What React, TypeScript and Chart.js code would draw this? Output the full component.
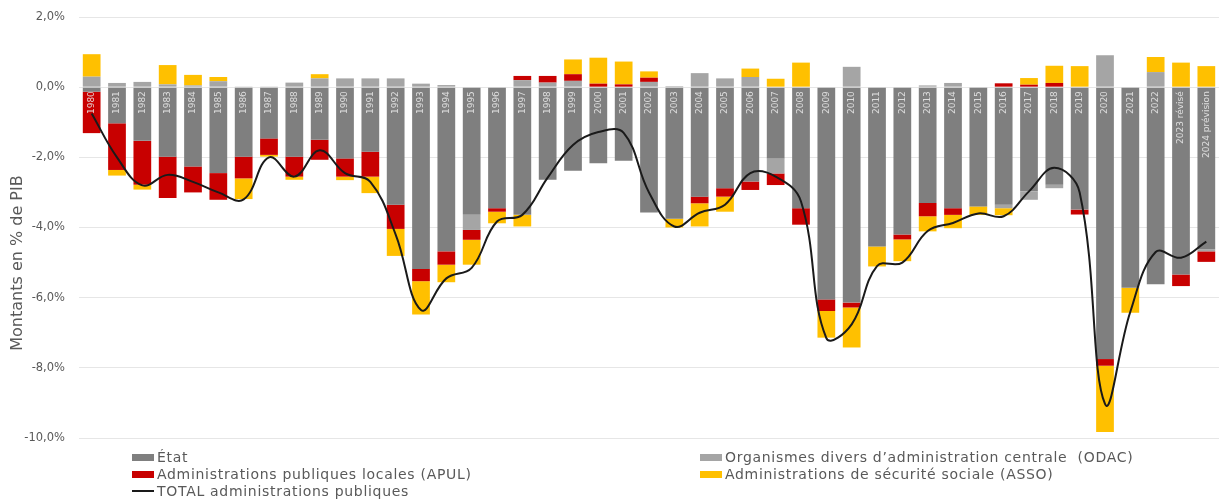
import React, { useEffect, useRef } from 'react';
import { Chart, registerables } from 'chart.js';

Chart.register(...registerables);

const years = [
  '1980', '1981', '1982', '1983', '1984', '1985', '1986', '1987', '1988', '1989',
  '1990', '1991', '1992', '1993', '1994', '1995', '1996', '1997', '1998', '1999',
  '2000', '2001', '2002', '2003', '2004', '2005', '2006', '2007', '2008', '2009',
  '2010', '2011', '2012', '2013', '2014', '2015', '2016', '2017', '2018', '2019',
  '2020', '2021', '2022', '2023 révisé', '2024 prévision',
];

const etat = [
  -0.13, -1.03, -1.53, -1.98, -2.26, -2.45, -1.98, -1.46, -1.98, -1.5,
  -2.03, -1.84, -3.35, -5.18, -4.68, -3.64, -3.45, -3.64, -2.64, -2.38,
  -2.17, -2.1, -3.57, -3.75, -3.12, -2.88, -2.69, -2.03, -3.45, -6.05,
  -6.14, -4.54, -4.2, -3.3, -3.45, -3.4, -3.35, -2.97, -2.78, -3.49,
  -7.75, -5.72, -5.62, -5.34, -4.63,
];

const odac = [
  0.3, 0.12, 0.15, 0.08, 0.05, 0.17, 0.02, 0.02, 0.13, 0.25,
  0.25, 0.25, 0.25, 0.1, 0.06, -0.43, 0, 0.2, 0.13, 0.18,
  0, 0, 0.15, 0.03, 0.4, 0.25, 0.29, -0.43, 0, 0,
  0.58, 0, 0, 0.05, 0.12, 0, -0.1, -0.24, -0.1, 0,
  0.91, 0, 0.43, 0, -0.05,
];

const apul = [
  -1.18, -1.33, -1.25, -1.18, -0.74, -0.76, -0.62, -0.47, -0.57, -0.57,
  -0.52, -0.71, -0.69, -0.35, -0.38, -0.28, -0.1, 0.12, 0.19, 0.19,
  0.1, 0.08, 0.12, 0, -0.19, -0.24, -0.24, -0.33, -0.47, -0.33,
  -0.14, 0, -0.14, -0.38, -0.19, 0, 0.11, 0.07, 0.12, -0.14,
  -0.19, 0, 0, -0.33, -0.3,
];

const asso = [
  0.64, -0.16, -0.14, 0.55, 0.3, 0.12, -0.59, -0.05, -0.09, 0.12,
  -0.1, -0.47, -0.77, -0.95, -0.5, -0.71, -0.33, -0.33, 0, 0.42,
  0.74, 0.65, 0.18, -0.25, -0.66, -0.43, 0.24, 0.24, 0.7, -0.76,
  -1.14, -0.57, -0.62, -0.43, -0.38, -0.24, -0.2, 0.19, 0.49, 0.6,
  -1.89, -0.71, 0.43, 0.7, 0.6,
];

const total = [
  -0.75, -2.0, -2.8, -2.5, -2.7, -3.0, -3.2, -2.0, -2.55, -1.8,
  -2.45, -2.7, -4.2, -6.35, -5.45, -5.15, -3.83, -3.64, -2.58, -1.65,
  -1.28, -1.3, -3.0, -3.97, -3.58, -3.35, -2.45, -2.55, -3.26, -7.15,
  -6.76, -5.1, -5.0, -4.1, -3.87, -3.6, -3.68, -2.97, -2.3, -3.0,
  -9.03, -6.4, -4.7, -4.86, -4.4,
];

const seriesNames = [
  'État',
  'Organismes divers d\u2019administration centrale  (ODAC)',
  'Administrations publiques locales (APUL)',
  'Administrations de sécurité sociale (ASSO)',
  'TOTAL administrations publiques',
];

const yAxisTitle = 'Montants en % de PIB';
const yMin = -10;
const yMax = 2;
const yStep = 2;

const COLORS = {
  etat: '#7f7f7f',
  odac: '#a5a5a5',
  apul: '#c80000',
  asso: '#ffc000',
  total: '#1a1a1a',
};

const TEXT = '#595959';
const FONT = '"DejaVu Sans", sans-serif';

const fmtPct = (v: number) => v.toFixed(1).replace('.', ',') + '%';

const overlayPlugin = {
  id: 'overlayText',
  afterDatasetsDraw(chart: any) {
    const { ctx, scales } = chart;
    const x = scales.x;
    const y = scales.y;
    const y0 = y.getPixelForValue(0);
    ctx.save();
    ctx.font = `9px ${FONT}`;
    ctx.fillStyle = 'rgba(232,232,232,0.9)';
    ctx.textAlign = 'right';
    ctx.textBaseline = 'middle';
    years.forEach((lab, i) => {
      const px = x.getPixelForValue(i);
      ctx.save();
      ctx.translate(px, y0 + 4);
      ctx.rotate(-Math.PI / 2);
      ctx.fillText(lab, 0, 0);
      ctx.restore();
    });
    ctx.restore();

    ctx.save();
    ctx.font = `16px ${FONT}`;
    ctx.fillStyle = TEXT;
    ctx.textAlign = 'center';
    ctx.textBaseline = 'middle';
    ctx.translate(18, 263);
    ctx.rotate(-Math.PI / 2);
    ctx.fillText(yAxisTitle, 0, 0);
    ctx.restore();
  },
};

function Legend() {
  const items = [
    { name: seriesNames[0], color: COLORS.etat, kind: 'box', left: 132, top: 457 },
    { name: seriesNames[1], color: COLORS.odac, kind: 'box', left: 700, top: 457 },
    { name: seriesNames[2], color: COLORS.apul, kind: 'box', left: 132, top: 474 },
    { name: seriesNames[3], color: COLORS.asso, kind: 'box', left: 700, top: 474 },
    { name: seriesNames[4], color: COLORS.total, kind: 'line', left: 132, top: 491 },
  ];
  return (
    <>
      {items.map((it) => (
        <div
          key={it.name}
          style={{
            position: 'absolute',
            left: it.left,
            top: it.top - 9,
            height: 18,
            display: 'flex',
            alignItems: 'center',
            whiteSpace: 'pre',
            fontFamily: FONT,
            fontSize: 14,
            letterSpacing: 0.7,
            color: TEXT,
          }}
        >
          <span
            style={{
              display: 'inline-block',
              width: 22,
              height: it.kind === 'box' ? 7 : 2,
              background: it.color,
              marginRight: 3,
            }}
          />
          <span>{it.name}</span>
        </div>
      ))}
    </>
  );
}

export default function App() {
  const canvasRef = useRef<HTMLCanvasElement | null>(null);

  useEffect(() => {
    const canvas = canvasRef.current;
    if (!canvas) return;
    const barCommon = {
      type: 'bar' as const,
      stack: 'apu',
      order: 1,
      barPercentage: 0.7,
      categoryPercentage: 1,
      borderWidth: 0,
    };
    const chart = new Chart(canvas, {
      type: 'bar',
      data: {
        labels: years,
        datasets: [
          { ...barCommon, label: seriesNames[0], data: etat, backgroundColor: COLORS.etat },
          { ...barCommon, label: seriesNames[1], data: odac, backgroundColor: COLORS.odac },
          { ...barCommon, label: seriesNames[2], data: apul, backgroundColor: COLORS.apul },
          { ...barCommon, label: seriesNames[3], data: asso, backgroundColor: COLORS.asso },
          {
            type: 'line' as const,
            label: seriesNames[4],
            data: total,
            stack: 'total',
            order: 0,
            borderColor: COLORS.total,
            backgroundColor: COLORS.total,
            borderWidth: 2,
            pointRadius: 0,
            tension: 0.4,
            fill: false,
          } as any,
        ],
      },
      options: {
        responsive: false,
        animation: false,
        devicePixelRatio: 1,
        layout: { padding: { top: 17, bottom: 66, left: 0, right: 0 } },
        plugins: {
          legend: { display: false },
          tooltip: { enabled: false },
        },
        scales: {
          x: {
            display: false,
            stacked: true,
            offset: true,
            grid: { display: false },
          },
          y: {
            stacked: true,
            min: yMin,
            max: yMax,
            border: { display: false },
            grid: { color: '#e6e6e6', lineWidth: 1, drawTicks: false },
            ticks: {
              stepSize: yStep,
              padding: 14,
              color: TEXT,
              font: { family: 'DejaVu Sans', size: 11.5 },
              callback: (v: any) => fmtPct(Number(v)),
            },
            afterFit: (scale: any) => {
              scale.width = 79;
              scale.paddingTop = 0;
              scale.paddingBottom = 0;
            },
          },
        },
      },
      plugins: [overlayPlugin],
    } as any);
    return () => chart.destroy();
  }, []);

  return (
    <div style={{ position: 'absolute', left: 0, top: 0, width: 1219, height: 504, background: '#fff' }}>
      <canvas ref={canvasRef} width={1219} height={504} style={{ display: 'block', width: 1219, height: 504 }} />
      <Legend />
    </div>
  );
}
